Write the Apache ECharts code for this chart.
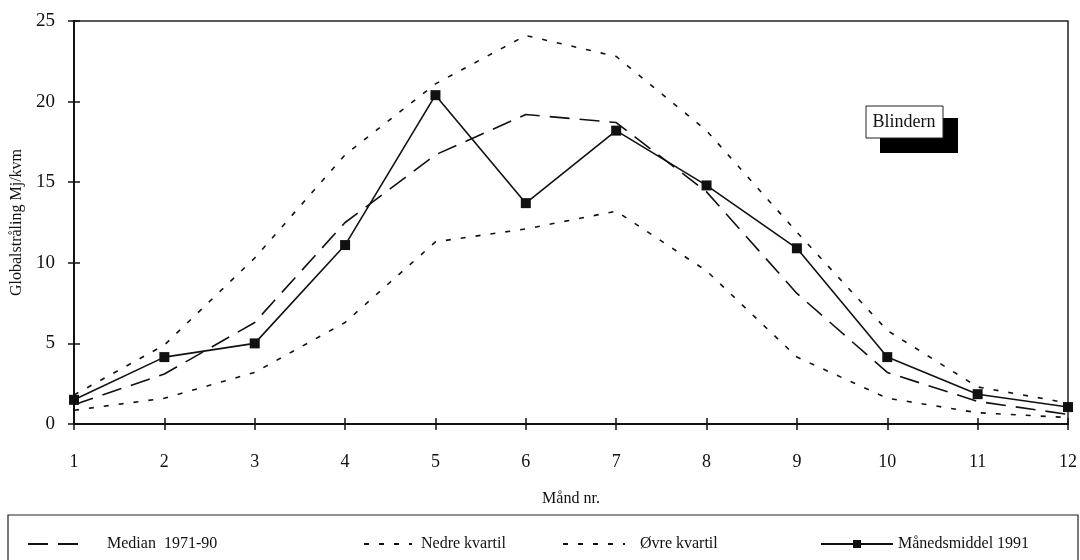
<!DOCTYPE html>
<html><head><meta charset="utf-8">
<script src="https://cdn.jsdelivr.net/npm/echarts@6/dist/echarts.min.js"></script>
<style>html,body{margin:0;padding:0;background:#fff}#c{width:1080px;height:560px}</style>
</head><body><div id="c"></div>
<script>
const months = [1,2,3,4,5,6,7,8,9,10,11,12];
const median = [1.2,3.1,6.3,12.5,16.7,19.2,18.7,14.4,8.1,3.2,1.4,0.6];
const lowerQ = [0.85,1.6,3.2,6.3,11.3,12.1,13.2,9.5,4.15,1.6,0.7,0.4];
const upperQ = [1.8,4.9,10.3,16.7,21.1,24.1,22.8,18.2,11.9,5.8,2.3,1.3];
const mean1991 = [1.5,4.15,5.0,11.1,20.4,13.7,18.2,14.8,10.9,4.15,1.85,1.05];
const yTicks = [0,5,10,15,20,25];
const names = ['Median  1971-90','Nedre kvartil','Øvre kvartil','Månedsmiddel 1991'];

const font = 'Liberation Serif';
const pair = (arr) => months.map((m,i)=>[m,arr[i]]);
const chart = echarts.init(document.getElementById('c'));
const legendPos = [[22,names[0],58,16,0],[358,names[1],48,4,0],[557,names[2],62,10,0],[815,names[3],72,0,1]];
const axisCommon = { type:'value', min:1, max:12, interval:1 };
chart.setOption({
  animation:false,
  backgroundColor:'#fff',
  grid:{left:74,right:12,top:21,bottom:136,outerBoundsMode:'none',containLabel:false,show:true,borderColor:'#222',borderWidth:1.5,backgroundColor:'transparent'},
  xAxis:[{
    ...axisCommon,
    name:'Månd nr.', nameLocation:'middle', nameGap:67,
    nameTextStyle:{fontFamily:font,fontSize:16,color:'#111'},
    axisLine:{show:true,lineStyle:{color:'#111',width:2}},
    axisTick:{show:true,length:6,lineStyle:{color:'#111',width:1.5}},
    axisLabel:{fontFamily:font,fontSize:18,color:'#111',margin:29},
    splitLine:{show:false}
  },{
    ...axisCommon, position:'bottom', gridIndex:0,
    axisLine:{show:false},
    axisTick:{show:true,inside:true,length:6,lineStyle:{color:'#111',width:1.5}},
    axisLabel:{show:false}, splitLine:{show:false}
  }],
  yAxis:[{
    type:'value', min:0, max:25, interval:5,
    name:'Globalstråling Mj/kvm', nameLocation:'middle', nameGap:48,
    nameTextStyle:{fontFamily:font,fontSize:16,color:'#111'},
    axisLine:{show:true,lineStyle:{color:'#111',width:2}},
    axisTick:{show:true,length:6,lineStyle:{color:'#111',width:1.5}},
    axisLabel:{fontFamily:font,fontSize:19,color:'#111',margin:19,
      formatter:(v)=> yTicks.includes(v) ? String(v) : ''},
    splitLine:{show:false}
  },{
    type:'value', min:0, max:25, interval:5, position:'left',
    axisLine:{show:false},
    axisTick:{show:true,inside:true,length:6,lineStyle:{color:'#111',width:1.5}},
    axisLabel:{show:false}, splitLine:{show:false}
  }],
  legend: legendPos.map(([x,n,w,p,op])=>({
    data:[n], left:x, top:531, itemWidth:w, itemHeight:10, itemGap:0,
    itemStyle:{opacity:op},
    textStyle:{fontFamily:font,fontSize:16,color:'#111',padding:[0,0,0,p]}
  })),
  graphic:[
    {type:'rect',shape:{x:8,y:515,width:1070,height:60},style:{fill:'none',stroke:'#222',lineWidth:1.2},silent:true},
    {type:'rect',shape:{x:880,y:118,width:78,height:35},style:{fill:'#000'},z:10},
    {type:'rect',shape:{x:866,y:106,width:77,height:32},style:{fill:'#fff',stroke:'#222',lineWidth:1},z:11},
    {type:'text',x:904,y:122,style:{text:'Blindern',fontFamily:font,fontSize:18,fill:'#111',align:'center',verticalAlign:'middle'},z:12}
  ],
  series:[
    {name:names[0],type:'line',data:pair(median),symbol:'none',
      lineStyle:{color:'#111',width:1.6,type:[20,10]},itemStyle:{color:'#111'}},
    {name:names[1],type:'line',data:pair(lowerQ),symbol:'none',
      lineStyle:{color:'#111',width:1.6,type:[5,10]},itemStyle:{color:'#111'}},
    {name:names[2],type:'line',data:pair(upperQ),symbol:'none',
      lineStyle:{color:'#111',width:1.6,type:[5,10]},itemStyle:{color:'#111'}},
    {name:names[3],type:'line',data:pair(mean1991),symbol:'rect',symbolSize:10,
      lineStyle:{color:'#111',width:1.6},itemStyle:{color:'#111'}}
  ]
});
</script></body></html>
